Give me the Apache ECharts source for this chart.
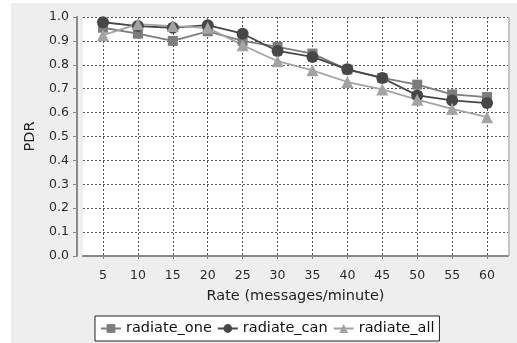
<!DOCTYPE html>
<html>
<head>
<meta charset="utf-8">
<script src="https://cdn.jsdelivr.net/npm/echarts@6/dist/echarts.min.js"></script>
<style>
  html, body { margin: 0; padding: 0; background: #fff; }
  #chart { width: 517px; height: 343px; }
</style>
</head>
<body>
<div id="chart"></div>
<script>
const rates = [5, 10, 15, 20, 25, 30, 35, 40, 45, 50, 55, 60];
const yTicks = [0, 0.1, 0.2, 0.3, 0.4, 0.5, 0.6, 0.7, 0.8, 0.9, 1.0];
const radiateOne = [0.955, 0.93, 0.90, 0.94, 0.90, 0.875, 0.847, 0.78, 0.745, 0.717, 0.676, 0.665];
const radiateCan = [0.978, 0.962, 0.955, 0.966, 0.93, 0.858, 0.833, 0.781, 0.745, 0.672, 0.651, 0.64];
const radiateAll = [0.924, 0.97, 0.962, 0.955, 0.882, 0.815, 0.777, 0.728, 0.697, 0.654, 0.616, 0.581];

const chart = echarts.init(document.getElementById('chart'));
const font = 'DejaVu Sans';

const pair = (vals) => rates.map((r, i) => [r, vals[i]]);

chart.setOption({
  backgroundColor: '#eeeeee',
  animation: false,
  textStyle: { fontFamily: font },
  graphic: [
    // white strips on left and top of the picture
    { type: 'rect', left: 0, top: 0, shape: { width: 11, height: 343 }, style: { fill: '#fff' }, silent: true },
    { type: 'rect', left: 0, top: 0, shape: { width: 517, height: 3 }, style: { fill: '#fff' }, silent: true },
    // plot right border
    { type: 'rect', left: 508, top: 17, shape: { width: 2, height: 239 }, style: { fill: '#c4c4c4' }, silent: true },
  ],
  grid: {
    left: 83, right: 9, top: 17, bottom: 87,
    show: true, backgroundColor: '#ffffff', borderWidth: 0,
  },
  legend: {
    bottom: 2,
    left: 95,
    width: 345,
    padding: [5, 5, 5, 5],
    backgroundColor: '#ffffff',
    borderColor: '#222',
    borderWidth: 1,
    borderRadius: 0,
    itemGap: 5,
    itemWidth: 20,
    itemHeight: 11,
    textStyle: { fontFamily: font, fontSize: 14.5, color: '#111' },
    data: ['radiate_one', 'radiate_can', 'radiate_all'],
  },
  xAxis: {
    type: 'value',
    min: 2.14,
    max: 63,
    offset: 5,
    name: 'Rate (messages/minute)',
    nameLocation: 'middle',
    nameGap: 28,
    nameTextStyle: { fontSize: 14.5, color: '#222' },
    axisLine: { show: true, lineStyle: { color: '#888', width: 2 } },
    axisTick: { show: true, length: 3, customValues: rates, lineStyle: { color: '#888' } },
    axisLabel: { customValues: rates, fontSize: 12.5, color: '#2a2a2a', margin: 8 },
    splitLine: { show: true, lineStyle: { color: '#555', type: [2, 2], width: 1 } },
  },
  yAxis: {
    type: 'value',
    min: 0,
    max: 1,
    offset: 6,
    name: 'PDR',
    nameLocation: 'middle',
    nameGap: 37,
    nameTextStyle: { fontSize: 14.5, color: '#222' },
    axisLine: { show: true, lineStyle: { color: '#888', width: 2 } },
    axisTick: { show: true, length: 4, customValues: yTicks, lineStyle: { color: '#888' } },
    axisLabel: { customValues: yTicks, fontSize: 12.5, color: '#2a2a2a', margin: 8, formatter: (v) => v.toFixed(1) },
    splitLine: { show: true, lineStyle: { color: '#555', type: [2, 2], width: 1 } },
  },
  series: [
    {
      name: 'radiate_one', type: 'line', data: pair(radiateOne),
      symbol: 'rect', symbolSize: 10,
      lineStyle: { color: '#7d7d7d', width: 1.8 },
      itemStyle: { color: '#7d7d7d' },
    },
    {
      name: 'radiate_can', type: 'line', data: pair(radiateCan),
      symbol: 'circle', symbolSize: 12,
      lineStyle: { color: '#474747', width: 1.8 },
      itemStyle: { color: '#474747' },
    },
    {
      name: 'radiate_all', type: 'line', data: pair(radiateAll),
      symbol: 'triangle', symbolSize: 12,
      lineStyle: { color: '#a3a3a3', width: 1.8 },
      itemStyle: { color: '#a3a3a3' },
    },
  ],
});
</script>
</body>
</html>
